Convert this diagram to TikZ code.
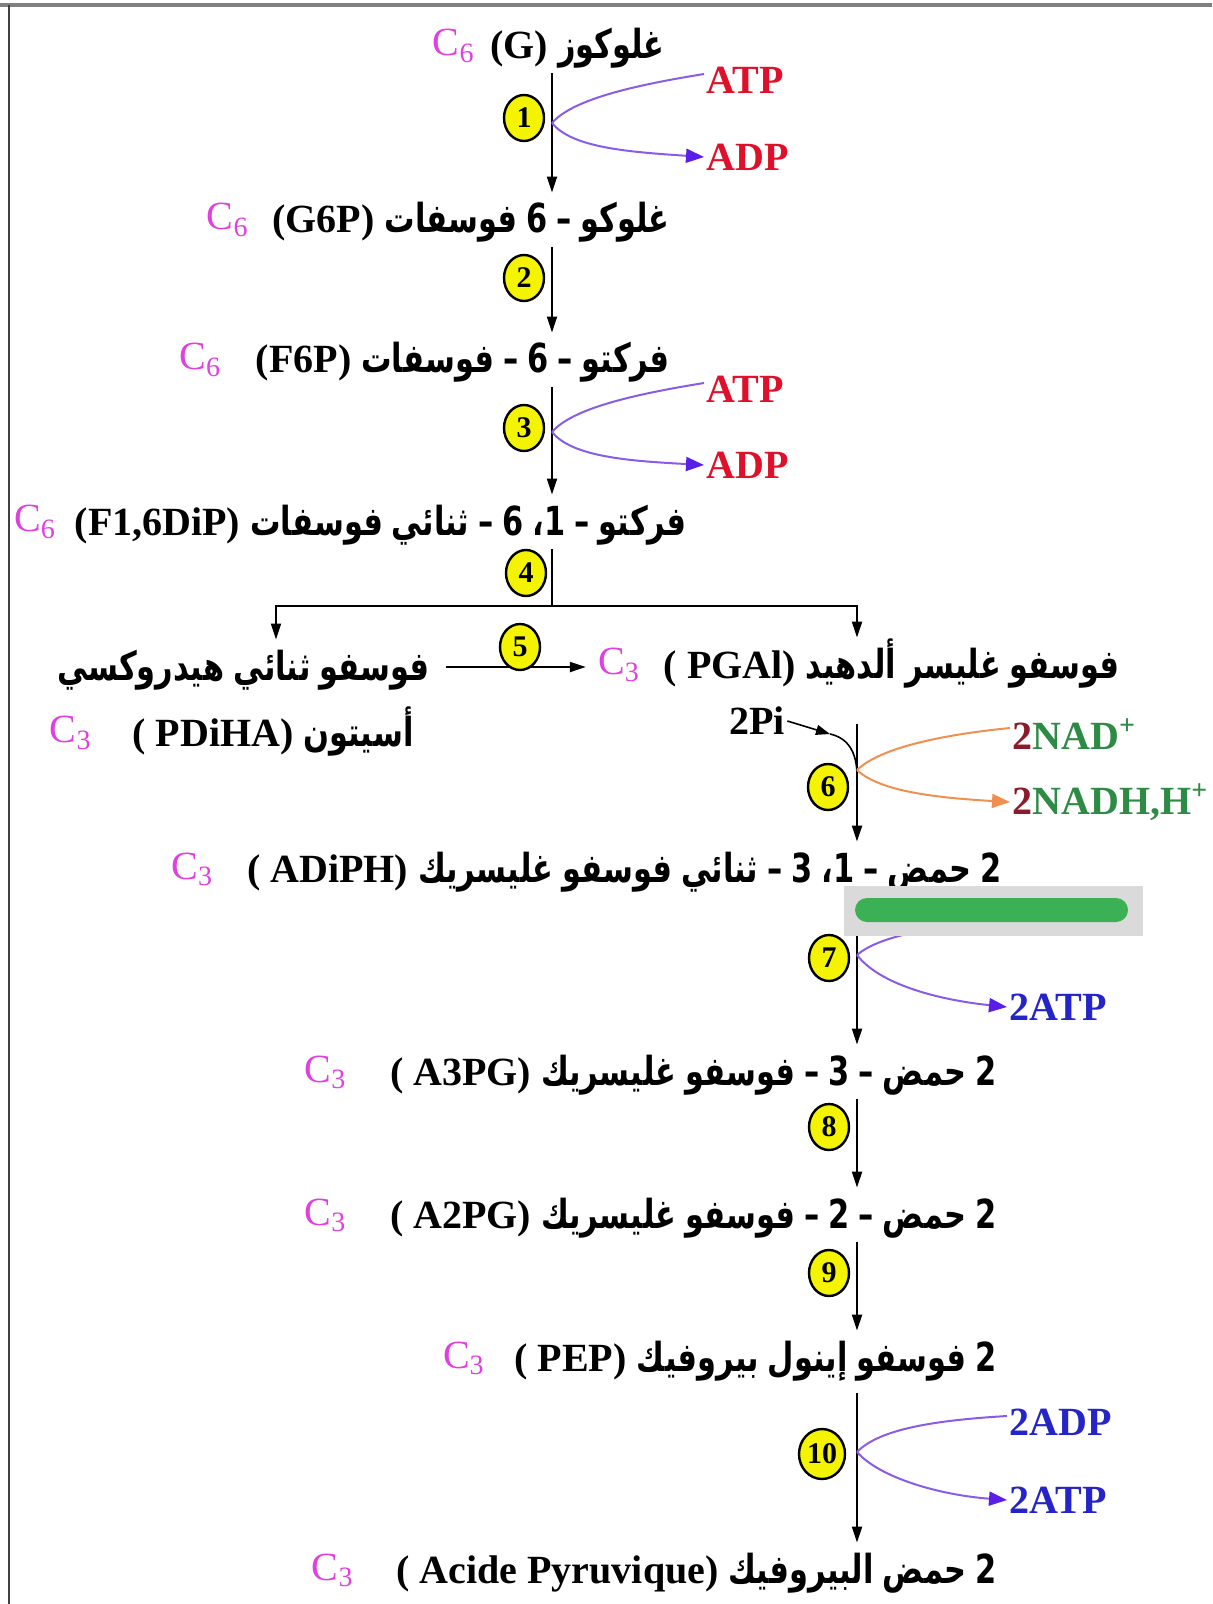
\documentclass[tikz,border=0pt]{standalone}
\usepackage{fontspec}
\setmainfont{Liberation Serif}
\newfontfamily\arabicfont[Script=Arabic, FakeStretch=0.76, WordSpace=0.85]{DejaVu Sans}
\TeXXeTstate=1
\usetikzlibrary{arrows.meta}
\usetikzlibrary{positioning}
\usetikzlibrary{shapes.geometric}

\definecolor{cmag}{HTML}{E040E0}
\definecolor{atpred}{HTML}{E0102A}
\definecolor{linkviolet}{HTML}{8A5CE6}
\definecolor{tipviolet}{HTML}{5A1EE6}
\definecolor{nadgreen}{HTML}{2E8B45}
\definecolor{naddark}{HTML}{8B1A2A}
\definecolor{nadorange}{HTML}{F09050}
\definecolor{atpblue}{HTML}{2424C8}
\definecolor{enzyellow}{HTML}{F4F400}
\definecolor{bannergray}{HTML}{DADADA}
\definecolor{bannergreen}{HTML}{3CB054}

\newcommand\artext[1]{{\arabicfont\bfseries\beginR #1\endR}}

\tikzset{
    mol/.style={anchor=east, inner xsep=0pt, inner ysep=5pt, text height=15pt, text depth=2pt,
        font=\fontsize{20}{24}\selectfont\bfseries},
    cnum/.style={inner sep=0pt, text=cmag, font=\fontsize{20}{24}\selectfont},
    enz/.style={ellipse, draw, line width=1.2pt, fill=enzyellow, inner sep=0pt,
        minimum width=20pt, minimum height=23pt, font=\fontsize{15}{18}\selectfont\bfseries},
    ener/.style={anchor=west, inner sep=1pt, font=\fontsize{20}{24}\selectfont\bfseries},
    flow/.style={line width=1pt, -{Triangle[length=8pt, width=5pt]}},
    link/.style={line width=1pt, linkviolet},
    linkto/.style={link, -{Triangle[length=9pt, width=7pt, color=tipviolet]}},
    nadlink/.style={line width=1pt, nadorange},
    nadto/.style={nadlink, -{Triangle[length=9pt, width=7pt]}}
}

\begin{document}
\begin{tikzpicture}[x=0.5pt, y=-0.5pt]
    \useasboundingbox (0,0) rectangle (1212,1604);

    % frame
    \draw[line width=2pt, gray] (0,5) -- (1212,5);
    \draw[line width=1pt, darkgray] (9,5) -- (9,1604);

    % the two vertical lines
    \coordinate (spine) at (552,0);
    \coordinate (spineb) at (857,0);

    % molecules
    \node[mol] (glc) at (665,46) {(G) \artext{غلوكوز}};
    \node[cnum, left=7.5pt of glc] (cglc) {C\textsubscript{6}};
    \node[mol] (g6p) at (670,220) {(G6P) \artext{غلوكو – 6 فوسفات}};
    \node[cnum, left=11.5pt of g6p] (cg6p) {C\textsubscript{6}};
    \node[mol] (f6p) at (670,360) {(F6P) \artext{فركتو – 6 – فوسفات}};
    \node[cnum, left=17pt of f6p] (cf6p) {C\textsubscript{6}};
    \node[mol] (f16) at (687,522) {(F1,6DiP) \artext{فركتو – 1، 6 – ثنائي فوسفات}};
    \node[cnum, left=9pt of f16] (cf16) {C\textsubscript{6}};
    \node[mol] (dhap) at (430,667) {\artext{فوسفو ثنائي هيدروكسي}};
    \node[mol] (dhapb) at (414,733) {( PDiHA) \artext{أسيتون}};
    \node[cnum, left=20pt of dhapb] (cdhap) {C\textsubscript{3}};
    \node[mol] (pgal) at (1120,665) {( PGAl) \artext{فوسفو غليسر ألدهيد}};
    \node[cnum, left=11.5pt of pgal] (cpgal) {C\textsubscript{3}};
    \node[mol] (adiph) at (1002,869) {( ADiPH) \artext{2 حمض – 1، 3 – ثنائي فوسفو غليسريك}};
    \node[cnum, left=16.5pt of adiph] (cadiph) {C\textsubscript{3}};
    \node[mol] (a3pg) at (997,1072) {( A3PG) \artext{2 حمض – 3 – فوسفو غليسريك}};
    \node[cnum, left=21.5pt of a3pg] (ca3pg) {C\textsubscript{3}};
    \node[mol] (a2pg) at (997,1215) {( A2PG) \artext{2 حمض – 2 – فوسفو غليسريك}};
    \node[cnum, left=21.5pt of a2pg] (ca2pg) {C\textsubscript{3}};
    \node[mol] (pep) at (997,1358) {( PEP) \artext{2 فوسفو إينول بيروفيك}};
    \node[cnum, left=14.5pt of pep] (cpep) {C\textsubscript{3}};
    \node[mol] (pyr) at (997,1570) {( Acide Pyruvique) \artext{2 حمض البيروفيك}};
    \node[cnum, left=21pt of pyr] (cpyr) {C\textsubscript{3}};

    % main arrows
    \draw[flow] (glc.south -| spine) -- (g6p.north -| spine);
    \draw[flow] (g6p.south -| spine) -- (f6p.north -| spine);
    \draw[flow] (f6p.south -| spine) -- (f16.north -| spine);
    \coordinate (bar) at (552,606);
    \coordinate (barl) at (276,606);
    \draw[line width=1pt] (f16.south -| spine) -- (bar);
    \draw[flow] (bar) -- (barl) -- (dhap.north -| barl);
    \draw[flow] (bar) -| (pgal.north -| spineb);
    \draw[flow, shorten <=8pt, shorten >=6pt] (dhap.east) -- (cpgal.west |- dhap.east);
    \draw[flow, shorten <=16pt] (pgal.south -| spineb) -- (adiph.north -| spineb);
    \draw[flow, shorten <=16pt] (adiph.south -| spineb) -- (a3pg.north -| spineb);
    \draw[flow] (a3pg.south -| spineb) -- (a2pg.north -| spineb);
    \draw[flow] (a2pg.south -| spineb) -- (pep.north -| spineb);
    \draw[flow, shorten <=4pt] (pep.south -| spineb) -- (pyr.north -| spineb);

    % enzymes
    \node[enz] (e1) at (524,118) {1};
    \node[enz] (e2) at (524,278) {2};
    \node[enz] (e3) at (524,428) {3};
    \node[enz] (e4) at (526,573) {4};
    \node[enz] (e5) at (520,647) {5};
    \node[enz] (e6) at (828,787) {6};
    \node[enz] (e7) at (829,958) {7};
    \node[enz] (e8) at (829,1127) {8};
    \node[enz] (e9) at (829,1273) {9};
    \node[enz, minimum width=23pt, minimum height=25pt] (e10) at (822,1454) {10};

    % ATP / ADP
    \node[ener, text=atpred] (atp1) at (704,80) {ATP};
    \node[ener, text=atpred] (adp1) at (704,157) {ADP};
    \node[ener, text=atpred] (atp3) at (704,389) {ATP};
    \node[ener, text=atpred] (adp3) at (704,465) {ADP};
    \coordinate (br1) at (552,123);
    \coordinate (br3) at (552,432);
    \draw[link] (br1) .. controls (572,100) and (630,86) .. ([yshift=3pt]atp1.west);
    \draw[linkto] (br1) .. controls (572,148) and (630,152) .. (adp1.west);
    \draw[link] (br3) .. controls (572,409) and (630,395) .. ([yshift=3pt]atp3.west);
    \draw[linkto] (br3) .. controls (572,457) and (630,461) .. (adp3.west);

    % NAD
    \node[mol, anchor=west, inner sep=1pt] (pi) at (727,721) {2Pi};
    \coordinate (pij) at (830,734);
    \coordinate (pim) at (857,776);
    \draw[line width=0.8pt, -{Triangle[length=7pt, width=5pt]}] (pi.east) -- (pij);
    \draw[line width=0.8pt] (pij) .. controls (848,738) and (857,752) .. (pim);
    \node[ener] (nad) at (1010,734) {\textcolor{naddark}{2}\textcolor{nadgreen}{NAD\textsuperscript{+}}};
    \node[ener] (nadh) at (1010,802) {\textcolor{naddark}{2}\textcolor{nadgreen}{NADH,H\textsuperscript{+}}};
    \coordinate (br6) at (857,770);
    \draw[nadlink] (br6) .. controls (880,748) and (940,735) .. ([yshift=3pt]nad.west);
    \draw[nadto] (br6) .. controls (880,792) and (940,798) .. (nadh.west);

    % 2ADP / 2ATP
    \node[ener, text=atpblue] (adp7) at (1007,922) {2ADP};
    \node[ener, text=atpblue] (atp7) at (1007,1007) {2ATP};
    \node[ener, text=atpblue] (adp10) at (1007,1422) {2ADP};
    \node[ener, text=atpblue] (atp10) at (1007,1500) {2ATP};
    \coordinate (br7) at (857,955);
    \coordinate (br10) at (857,1452);
    \draw[link] (br7) .. controls (880,935) and (940,925) .. (adp7.west);
    \draw[linkto] (br7) .. controls (880,985) and (940,1000) .. (atp7.west);
    \draw[link] (br10) .. controls (880,1428) and (940,1420) .. ([yshift=3pt]adp10.west);
    \draw[linkto] (br10) .. controls (880,1478) and (940,1495) .. (atp10.west);

    % banner over 2ADP
    \fill[bannergray] (844,886) rectangle (1143,936);
    \fill[bannergreen, rounded corners=6pt] (855,898) rectangle (1128,922);

\end{tikzpicture}
\end{document}
